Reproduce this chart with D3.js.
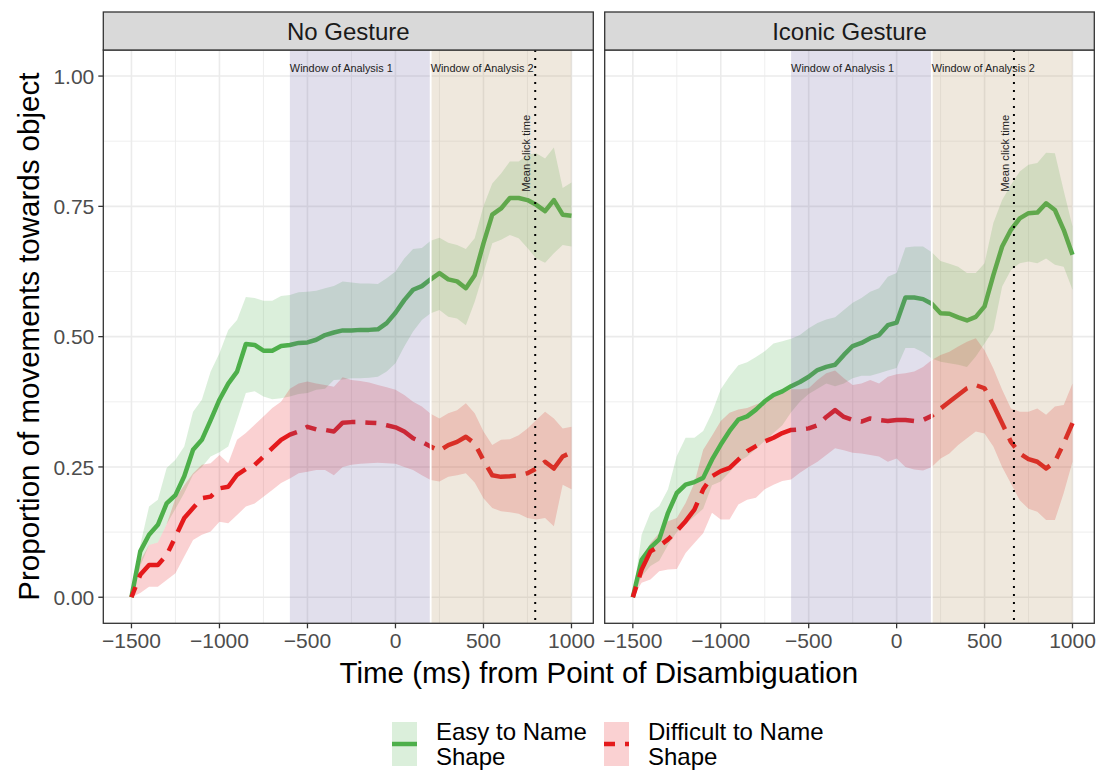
<!DOCTYPE html>
<html><head><meta charset="utf-8">
<script src="https://cdn.jsdelivr.net/npm/d3@7"></script>
<style>body{margin:0;background:#fff}svg{display:block}text{font-family:"Liberation Sans",Arial,Helvetica,sans-serif}</style>
</head><body><svg id="c" width="1101" height="770"></svg>
<script>
const time = [-1500,-1450,-1400,-1350,-1300,-1250,-1200,-1150,-1100,-1050,
 -1000,-950,-900,-850,-800,-750,-700,-650,-600,-550,
 -500,-450,-400,-350,-300,-250,-200,-150,-100,-50,
 0,50,100,150,200,250,300,350,400,450,
 500,550,600,650,700,750,800,850,900,950,1000];

const panelNames = ["No Gesture","Iconic Gesture"];
const meanClickTimes = [794, 667];
const seriesNames = ["Easy to Name\nShape","Difficult to Name\nShape"];
const xTicks = [-1500,-1000,-500,0,500,1000];
const xTickLabels = ["\u22121500","\u22121000","\u2212500","0","500","1000"];
const yTicks = [0,0.25,0.5,0.75,1];
const yTickLabels = ["0.00","0.25","0.50","0.75","1.00"];
const windows = [[-600,200,"Window of Analysis 1"],[200,1000,"Window of Analysis 2"]];

const ngEasyMean = [0,0.088,0.12,0.139,0.18,0.196,0.232,0.283,0.302,0.34,
 0.379,0.41,0.433,0.486,0.484,0.473,0.473,0.482,0.484,0.488,
 0.489,0.494,0.503,0.508,0.512,0.512,0.513,0.513,0.514,0.526,
 0.546,0.570,0.590,0.597,0.610,0.622,0.61,0.606,0.593,0.618,
 0.679,0.734,0.746,0.766,0.766,0.762,0.753,0.741,0.762,0.734,0.732];
const ngEasyHi = [0,0.10,0.174,0.187,0.248,0.264,0.289,0.356,0.379,0.433,
 0.468,0.513,0.532,0.576,0.574,0.569,0.569,0.578,0.58,0.585,
 0.586,0.588,0.593,0.597,0.606,0.604,0.602,0.602,0.601,0.612,
 0.625,0.650,0.668,0.670,0.684,0.690,0.68,0.676,0.668,0.689,
 0.75,0.794,0.813,0.836,0.836,0.849,0.852,0.842,0.863,0.785,0.796];
const ngEasyLo = [0,0.06,0.1,0.105,0.14,0.17,0.2,0.235,0.25,0.27,
 0.278,0.289,0.34,0.392,0.395,0.385,0.38,0.382,0.385,0.39,
 0.392,0.398,0.40,0.417,0.418,0.42,0.42,0.421,0.423,0.433,
 0.449,0.481,0.51,0.532,0.545,0.551,0.538,0.535,0.522,0.567,
 0.622,0.679,0.686,0.695,0.689,0.67,0.65,0.642,0.66,0.676,0.673];
const ngDiffMean = [0,0.043,0.062,0.062,0.081,0.116,0.152,0.171,0.19,0.193,
 0.209,0.212,0.235,0.246,0.254,0.27,0.286,0.302,0.312,0.318,
 0.327,0.322,0.321,0.318,0.335,0.336,0.336,0.335,0.334,0.33,
 0.326,0.318,0.305,0.298,0.289,0.281,0.292,0.298,0.308,0.295,
 0.263,0.234,0.231,0.232,0.234,0.238,0.247,0.26,0.247,0.27,0.278];
const ngDiffHi = [0,0.07,0.10,0.105,0.14,0.19,0.215,0.238,0.254,0.257,
 0.273,0.257,0.302,0.315,0.331,0.347,0.363,0.375,0.40,0.41,
 0.414,0.41,0.407,0.404,0.422,0.417,0.415,0.412,0.407,0.403,
 0.398,0.388,0.375,0.366,0.352,0.343,0.353,0.359,0.372,0.353,
 0.318,0.292,0.302,0.303,0.311,0.324,0.34,0.356,0.343,0.324,0.327];
const ngDiffLo = [0,0.008,0.02,0.02,0.033,0.046,0.078,0.11,0.12,0.126,
 0.145,0.142,0.158,0.174,0.18,0.193,0.206,0.219,0.228,0.238,
 0.241,0.244,0.244,0.234,0.25,0.254,0.256,0.257,0.258,0.257,
 0.256,0.25,0.244,0.234,0.225,0.222,0.231,0.234,0.238,0.22,
 0.19,0.171,0.165,0.163,0.16,0.152,0.149,0.152,0.136,0.216,0.207];

const igEasyMean = [0,0.072,0.095,0.111,0.162,0.2,0.216,0.221,0.229,0.264,
 0.293,0.319,0.341,0.347,0.36,0.376,0.388,0.395,0.405,0.413,
 0.423,0.436,0.442,0.446,0.465,0.482,0.488,0.497,0.503,0.522,
 0.527,0.575,0.575,0.572,0.563,0.545,0.544,0.537,0.531,0.538,
 0.558,0.618,0.673,0.705,0.727,0.737,0.738,0.756,0.743,0.705,0.657];
const igEasyHi = [0,0.12,0.162,0.175,0.207,0.271,0.306,0.306,0.319,0.354,
 0.399,0.424,0.445,0.451,0.461,0.472,0.487,0.491,0.496,0.503,
 0.516,0.526,0.533,0.537,0.551,0.565,0.574,0.586,0.593,0.615,
 0.622,0.671,0.673,0.673,0.662,0.645,0.64,0.634,0.622,0.622,
 0.641,0.718,0.762,0.791,0.817,0.83,0.833,0.853,0.852,0.78,0.712];
const igEasyLo = [0,0.04,0.06,0.07,0.10,0.125,0.14,0.155,0.17,0.215,
 0.222,0.24,0.26,0.27,0.285,0.30,0.315,0.33,0.355,0.375,
 0.39,0.40,0.41,0.405,0.41,0.42,0.425,0.425,0.43,0.435,
 0.44,0.478,0.478,0.47,0.458,0.452,0.449,0.446,0.442,0.462,
 0.487,0.513,0.596,0.628,0.641,0.644,0.641,0.65,0.638,0.634,0.59];
const igDiffMean = [0,0.053,0.088,0.098,0.111,0.127,0.146,0.168,0.207,0.232,
 0.242,0.248,0.264,0.28,0.29,0.299,0.306,0.315,0.321,0.322,
 0.324,0.33,0.346,0.359,0.346,0.34,0.337,0.343,0.34,0.338,
 0.34,0.34,0.338,0.34,0.348,0.362,0.375,0.388,0.401,0.407,
 0.401,0.369,0.334,0.298,0.276,0.265,0.26,0.247,0.26,0.295,0.334];
const igDiffHi = [0,0.07,0.104,0.123,0.146,0.152,0.181,0.219,0.283,0.31,
 0.338,0.354,0.36,0.363,0.37,0.376,0.386,0.392,0.399,0.399,
 0.401,0.417,0.43,0.435,0.42,0.407,0.41,0.417,0.41,0.423,
 0.428,0.43,0.433,0.442,0.455,0.465,0.471,0.481,0.49,0.497,
 0.474,0.439,0.398,0.362,0.356,0.356,0.362,0.35,0.366,0.369,0.41];
const igDiffLo = [0,0.028,0.034,0.05,0.053,0.054,0.085,0.104,0.123,0.162,
 0.149,0.149,0.178,0.187,0.191,0.207,0.216,0.223,0.226,0.239,
 0.25,0.26,0.273,0.286,0.282,0.277,0.276,0.273,0.27,0.26,
 0.266,0.25,0.245,0.243,0.25,0.266,0.276,0.292,0.305,0.318,
 0.314,0.289,0.25,0.218,0.186,0.17,0.164,0.148,0.148,0.2,0.26];

const panelData = [
  [{mean:ngEasyMean,lo:ngEasyLo,hi:ngEasyHi},{mean:ngDiffMean,lo:ngDiffLo,hi:ngDiffHi}],
  [{mean:igEasyMean,lo:igEasyLo,hi:igEasyHi},{mean:igDiffMean,lo:igDiffLo,hi:igDiffHi}]
];

const colors = ["#4DAF4A","#E41A1C"];
const dashes = [null,"11,10,33,10"];
const winFill = ["#695FA0","#B08A55"];

const svg = d3.select("#c");
const panelX = [[103.3,593.3],[604.7,1094.3]];
const pTop = 50, pBottom = 623.3, stripTop = 12;
const y = d3.scaleLinear().domain([-0.05,1.05]).range([pBottom, pTop]);

panelX.forEach((px, pi) => {
  const x = d3.scaleLinear().domain([-1660,1124]).range(px);
  const g = svg.append("g");
  const clipId = "clip"+pi;
  svg.append("clipPath").attr("id",clipId).append("rect")
    .attr("x",px[0]).attr("y",pTop).attr("width",px[1]-px[0]).attr("height",pBottom-pTop);
  const minorX = [-1250,-750,-250,250,750];
  const minorY = [0.125,0.375,0.625,0.875];
  g.selectAll(".mx").data(minorX).join("line").attr("x1",d=>x(d)).attr("x2",d=>x(d))
    .attr("y1",pTop).attr("y2",pBottom).attr("stroke","#EBEBEB").attr("stroke-width",0.8);
  g.selectAll(".my").data(minorY).join("line").attr("y1",d=>y(d)).attr("y2",d=>y(d))
    .attr("x1",px[0]).attr("x2",px[1]).attr("stroke","#EBEBEB").attr("stroke-width",0.8);
  g.selectAll(".Mx").data(xTicks).join("line").attr("x1",d=>x(d)).attr("x2",d=>x(d))
    .attr("y1",pTop).attr("y2",pBottom).attr("stroke","#EBEBEB").attr("stroke-width",1.6);
  g.selectAll(".My").data(yTicks).join("line").attr("y1",d=>y(d)).attr("y2",d=>y(d))
    .attr("x1",px[0]).attr("x2",px[1]).attr("stroke","#EBEBEB").attr("stroke-width",1.6);

  const pg = g.append("g").attr("clip-path",`url(#${clipId})`);
  const series = panelData[pi];
  series.forEach((s, si) => {
    const area = d3.area().x((d,i)=>x(time[i])).y0((d,i)=>y(s.lo[i])).y1((d,i)=>y(s.hi[i]));
    pg.append("path").attr("d",area(time)).attr("fill",colors[si]).attr("fill-opacity",0.2);
  });
  series.forEach((s, si) => {
    const line = d3.line().x((d,i)=>x(time[i])).y((d,i)=>y(s.mean[i]));
    const p = pg.append("path").attr("d",line(time)).attr("fill","none")
      .attr("stroke",colors[si]).attr("stroke-width",4.5).attr("stroke-linejoin","round");
    if (dashes[si]) p.attr("stroke-dasharray",dashes[si]);
  });
  windows.forEach((w, wi) => {
    pg.append("rect").attr("x",x(w[0])).attr("width",x(w[1])-x(w[0]))
      .attr("y",pTop).attr("height",pBottom-pTop).attr("fill",winFill[wi]).attr("fill-opacity",0.2);
  });
  pg.append("line").attr("x1",x(200)).attr("x2",x(200)).attr("y1",pTop).attr("y2",pBottom)
    .attr("stroke","#fff").attr("stroke-width",1.8);
  const mc = meanClickTimes[pi];
  pg.append("line").attr("x1",x(mc)).attr("x2",x(mc)).attr("y1",pTop).attr("y2",pBottom)
    .attr("stroke","#000").attr("stroke-width",2).attr("stroke-dasharray","2,6");
  windows.forEach(w => {
    g.append("text").attr("x",x(w[0])).attr("y",y(1.016)).attr("dy","0.35em")
      .attr("font-size",10.9).attr("fill","#222").text(w[2]);
  });
  g.append("text").attr("transform",`translate(${x(mc)-9},${y(0.778)}) rotate(-90)`)
    .attr("dy","0.35em").attr("font-size",11.2).attr("fill","#222").text("Mean click time");

  g.append("rect").attr("x",px[0]).attr("y",pTop).attr("width",px[1]-px[0]).attr("height",pBottom-pTop)
    .attr("fill","none").attr("stroke","#333").attr("stroke-width",1.3);
  g.append("rect").attr("x",px[0]).attr("y",stripTop).attr("width",px[1]-px[0]).attr("height",pTop-stripTop)
    .attr("fill","#D9D9D9").attr("stroke","#333").attr("stroke-width",1.3);
  g.append("text").attr("x",(px[0]+px[1])/2).attr("y",(stripTop+pTop)/2).attr("dy","0.36em")
    .attr("text-anchor","middle").attr("font-size",24).attr("fill","#1A1A1A").text(panelNames[pi]);
  xTicks.forEach((t, ti) => {
    g.append("line").attr("x1",x(t)).attr("x2",x(t)).attr("y1",pBottom).attr("y2",pBottom+5)
      .attr("stroke","#333").attr("stroke-width",1.3);
    g.append("text").attr("x",x(t)).attr("y",pBottom+17).attr("dy","0.36em").attr("text-anchor","middle")
      .attr("font-size",21).attr("fill","#4D4D4D").text(xTickLabels[ti]);
  });
  if (pi === 0) {
    yTicks.forEach((t, ti) => {
      g.append("line").attr("x1",px[0]-5).attr("x2",px[0]).attr("y1",y(t)).attr("y2",y(t))
        .attr("stroke","#333").attr("stroke-width",1.3);
      g.append("text").attr("x",px[0]-9).attr("y",y(t)).attr("dy","0.36em").attr("text-anchor","end")
        .attr("font-size",21).attr("fill","#4D4D4D").text(yTickLabels[ti]);
    });
  }
});

svg.append("text").attr("x",(103.3+1094.3)/2).attr("y",672).attr("dy","0.36em").attr("text-anchor","middle")
  .attr("font-size",29.5).attr("fill","#000").text("Time (ms) from Point of Disambiguation");
svg.append("text").attr("transform",`translate(28,${(pTop+pBottom)/2}) rotate(-90)`).attr("dy","0.36em")
  .attr("text-anchor","middle").attr("font-size",29.5).attr("fill","#000").text("Proportion of movements towards object");

const legX = [392,604];
seriesNames.forEach((name, si) => {
  const lg = svg.append("g");
  const kx = legX[si], ky = 722, kw = 25, kh = 44;
  lg.append("rect").attr("x",kx).attr("y",ky).attr("width",kw).attr("height",kh)
    .attr("fill",colors[si]).attr("fill-opacity",0.2);
  const l = lg.append("line").attr("x1",kx).attr("x2",kx+kw).attr("y1",ky+kh/2).attr("y2",ky+kh/2)
    .attr("stroke",colors[si]).attr("stroke-width",4.5);
  if (dashes[si]) l.attr("stroke-dasharray",dashes[si]);
  name.split("\n").forEach((t, li) => {
    lg.append("text").attr("x",kx+44).attr("y",731+li*25).attr("dy","0.36em")
      .attr("font-size",24).attr("fill","#000").text(t);
  });
});
</script></body></html>
